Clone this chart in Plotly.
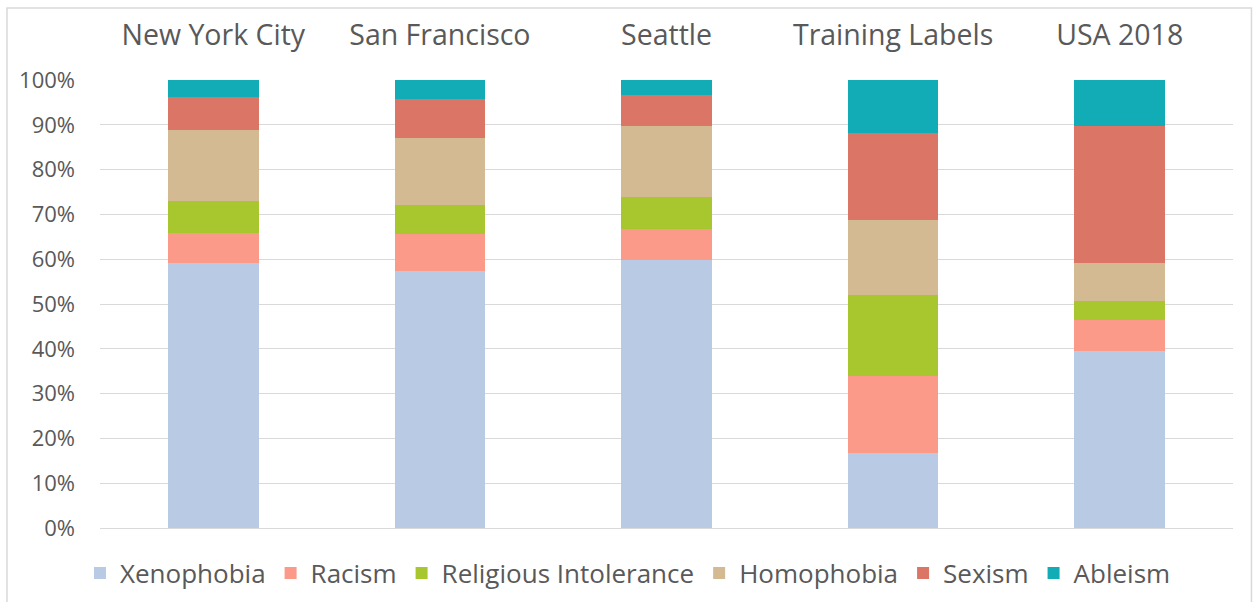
import plotly.graph_objects as go

categories = ["New York City", "San Francisco", "Seattle", "Training Labels", "USA 2018"]
xenophobia = [59.1, 57.4, 59.9, 16.7, 39.5]
racism = [6.8, 8.3, 6.8, 17.2, 7.0]
religious = [7.1, 6.4, 7.2, 18.2, 4.2]
homophobia = [15.8, 14.9, 15.9, 16.6, 8.4]
sexism = [7.3, 8.7, 6.8, 19.4, 30.6]
ableism = [3.9, 4.3, 3.4, 11.9, 10.3]

series = [
    ("Xenophobia", xenophobia, "#B9CBE4"),
    ("Racism", racism, "#FC9A89"),
    ("Religious Intolerance", religious, "#A8C72F"),
    ("Homophobia", homophobia, "#D4BA92"),
    ("Sexism", sexism, "#DB7566"),
    ("Ableism", ableism, "#12ACB6"),
]

fig = go.Figure()
for name, vals, color in series:
    fig.add_trace(go.Bar(x=categories, y=vals, name=name, marker_color=color,
                         marker_line_width=0))

font_family = "Open Sans, Noto Sans, sans-serif"
fig.update_layout(
    barmode="stack",
    barnorm="percent",
    bargap=0.6,
    width=1253, height=602,
    margin=dict(l=100, r=20, t=80, b=74, autoexpand=False),
    paper_bgcolor="white",
    plot_bgcolor="white",
    font=dict(family=font_family, color="#595959"),
    showlegend=True,
    legend=dict(orientation="h", x=0.466, xanchor="center", y=-0.048, yanchor="top",
                font=dict(size=26, color="#595959"), traceorder="normal",
                itemwidth=30),
    xaxis=dict(side="top", showgrid=False, showline=False, ticks="", automargin=False,
               tickfont=dict(size=28.5, color="#595959"), ticklabelstandoff=28),
    yaxis=dict(range=[0, 100], dtick=10, ticksuffix="%", showgrid=True, automargin=False,
               gridcolor="#D9D9D9", gridwidth=1, zeroline=True,
               zerolinecolor="#D9D9D9", zerolinewidth=1, showline=False,
               tickfont=dict(size=22, color="#595959"), ticklabelstandoff=24),
    shapes=[dict(type="rect", xref="paper", yref="paper",
                 x0=-0.0821, x1=1.0163, y0=-0.25, y1=1.1608,
                 line=dict(color="#D9D9D9", width=1.5), fillcolor="rgba(0,0,0,0)",
                 layer="below")],
)

fig.write_html("out.html", config={"displayModeBar": False},
               post_script="document.body.style.margin='0px';document.body.style.overflow='hidden';")
